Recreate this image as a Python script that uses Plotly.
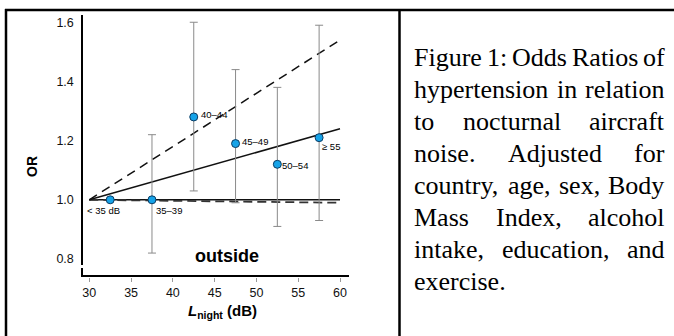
import plotly.graph_objects as go

# ---------------- data ----------------
categories = ["< 35 dB", "35–39", "40–44", "45–49", "50–54", "≥ 55"]
x_mid = [32.5, 37.5, 42.5, 47.5, 52.5, 57.5]
odds = [1.00, 1.00, 1.28, 1.19, 1.12, 1.21]
ci_low = [None, 0.82, 1.03, 0.99, 0.91, 0.93]
ci_high = [None, 1.22, 1.60, 1.44, 1.38, 1.59]

trend_x = [30, 60]
trend_or = [1.00, 1.24]
trend_upper = [1.00, 1.54]
trend_lower = [1.00, 0.99]
ref_or = [1.00, 1.00]

x_ticks = [30, 35, 40, 45, 50, 55, 60]
y_ticks = [0.8, 1.0, 1.2, 1.4, 1.6]
y_ticktext = ["0.8", "1.0", "1.2", "1.4", "1.6"]

panel_label = "outside"
x_title = "<b><i>L</i></b><sub><b>night</b></sub><b> (dB)</b>"
y_title = "<b>OR</b>"
caption_lines = [
    "Figure 1: Odds Ratios of",
    "hypertension in relation",
    "to nocturnal aircraft",
    "noise. Adjusted for",
    "country, age, sex, Body",
    "Mass Index, alcohol",
    "intake, education, and",
    "exercise.",
]

# ---------------- layout helpers ----------------
W, H = 674, 336
def px(x):
    return x / W
def py(y):
    return (H - y) / H

SANS = "Liberation Sans, Arial, sans-serif"
SERIF = "Liberation Serif, Times New Roman, serif"

fig = go.Figure()

# trend lines
fig.add_trace(go.Scatter(x=trend_x, y=ref_or, mode="lines",
                         line=dict(color="#111111", width=1.5), hoverinfo="skip"))
fig.add_trace(go.Scatter(x=trend_x, y=trend_lower, mode="lines",
                         line=dict(color="#333333", width=1.8, dash="9px,5px"), hoverinfo="skip"))
fig.add_trace(go.Scatter(x=trend_x, y=trend_upper, mode="lines",
                         line=dict(color="#111111", width=1.5, dash="9px,6px"), hoverinfo="skip"))
fig.add_trace(go.Scatter(x=trend_x, y=trend_or, mode="lines",
                         line=dict(color="#111111", width=1.5), hoverinfo="skip"))

# error bars (only categories with a CI)
eb_x, eb_y, eb_p, eb_m = [], [], [], []
for xv, o, lo, hi in zip(x_mid, odds, ci_low, ci_high):
    if lo is None:
        continue
    eb_x.append(xv); eb_y.append(o); eb_p.append(hi - o); eb_m.append(o - lo)
fig.add_trace(go.Scatter(
    x=eb_x, y=eb_y, mode="markers", marker=dict(size=1, color="rgba(0,0,0,0)"),
    error_y=dict(type="data", array=eb_p, arrayminus=eb_m, symmetric=False,
                 color="#8a8a8a", thickness=1, width=4),
    hoverinfo="skip"))

# points
fig.add_trace(go.Scatter(
    x=x_mid, y=odds, mode="markers",
    marker=dict(size=8, color="#16a3e8", line=dict(color="#0b3b63", width=1)),
    hoverinfo="skip"))

# category labels near points
label_pos = [
    dict(xanchor="center", yanchor="top", xshift=-7, yshift=-5),
    dict(xanchor="left", yanchor="top", xshift=4, yshift=-5),
    dict(xanchor="left", yanchor="middle", xshift=7, yshift=2),
    dict(xanchor="left", yanchor="middle", xshift=6, yshift=2),
    dict(xanchor="left", yanchor="middle", xshift=5, yshift=-1),
    dict(xanchor="left", yanchor="top", xshift=3, yshift=-3),
]
annotations = []
for lab, xv, o, pos in zip(categories, x_mid, odds, label_pos):
    annotations.append(dict(x=xv, y=o, xref="x", yref="y", text=lab, showarrow=False,
                            font=dict(family=SANS, size=9.5, color="#000000"),
                            borderpad=0, borderwidth=0, **pos))

annotations.append(dict(x=px(227), y=py(256), xref="paper", yref="paper", text="<b>%s</b>" % panel_label,
                        showarrow=False, font=dict(family=SANS, size=18, color="#000000"),
                        xanchor="center", yanchor="middle", borderpad=0, borderwidth=0))
annotations.append(dict(x=px(222), y=py(311), xref="paper", yref="paper", text=x_title,
                        showarrow=False, font=dict(family=SANS, size=15, color="#000000"),
                        xanchor="center", yanchor="middle", borderpad=0, borderwidth=0))
annotations.append(dict(x=px(32), y=py(167), xref="paper", yref="paper", text=y_title,
                        showarrow=False, textangle=-90, font=dict(family=SANS, size=14, color="#000000"),
                        xanchor="center", yanchor="middle", borderpad=0, borderwidth=0))

# justified caption (Times metrics, Liberation Serif is metric compatible)
TIMES = {' ': 250, ',': 250, '.': 250, ':': 278, '1': 500,
         'a': 444, 'b': 500, 'c': 444, 'd': 500, 'e': 444, 'f': 333, 'g': 500, 'h': 500,
         'i': 278, 'j': 278, 'k': 500, 'l': 278, 'm': 778, 'n': 500, 'o': 500, 'p': 500,
         'q': 500, 'r': 333, 's': 389, 't': 278, 'u': 500, 'v': 500, 'w': 722, 'x': 500,
         'y': 500, 'z': 444, 'A': 722, 'B': 667, 'F': 556, 'I': 333, 'M': 889, 'O': 722,
         'R': 667}
CAP_FS = 26
CAP_L, CAP_R = 414, 664.5
CAP_BASE0, CAP_STEP = 66, 32

def tw(word):
    return sum(TIMES.get(c, 500) for c in word) * CAP_FS / 1000.0

for i, line in enumerate(caption_lines):
    words = line.split(" ")
    ycen = CAP_BASE0 + CAP_STEP * i - 0.3375 * CAP_FS
    last = i == len(caption_lines) - 1
    widths = [tw(w) for w in words]
    if last or len(words) == 1:
        gap = tw(" ")
    else:
        gap = (CAP_R - CAP_L - sum(widths)) / (len(words) - 1)
    xcur = CAP_L
    for w, wd in zip(words, widths):
        annotations.append(dict(x=px(xcur), y=py(ycen), xref="paper", yref="paper", text=w,
                                showarrow=False, font=dict(family=SERIF, size=CAP_FS, color="#000000"),
                                xanchor="left", yanchor="middle", borderpad=0, borderwidth=0))
        xcur += wd + gap

# frame + axis lines
shapes = [
    dict(type="line", xref="paper", yref="paper", x0=px(5), x1=px(674), y0=py(10), y1=py(10),
         line=dict(color="#000000", width=2.5)),
    dict(type="line", xref="paper", yref="paper", x0=px(6), x1=px(6), y0=py(9), y1=py(336),
         line=dict(color="#000000", width=2.5)),
    dict(type="line", xref="paper", yref="paper", x0=px(399.5), x1=px(399.5), y0=py(9), y1=py(336),
         line=dict(color="#000000", width=2.5)),
    dict(type="line", xref="paper", yref="paper", x0=px(82), x1=px(82), y0=py(15), y1=py(265),
         line=dict(color="#000000", width=2)),
    dict(type="line", xref="paper", yref="paper", x0=px(82), x1=px(82), y0=py(268), y1=py(276),
         line=dict(color="#000000", width=2)),
    dict(type="line", xref="paper", yref="paper", x0=px(81), x1=px(349), y0=py(276), y1=py(276),
         line=dict(color="#000000", width=2)),
]

# axis geometry (pixel calibration)
X0_PX, X_PER = 89.3, 8.357
Y1_PX, Y_PER = 199.8, 295.9
x_lo, x_hi = 29.1, 61.1
y_lo, y_hi = 0.74, 1.625
xd = [(X0_PX + (x_lo - 30) * X_PER) / W, (X0_PX + (x_hi - 30) * X_PER) / W]
yd = [py(Y1_PX - (y_lo - 1) * Y_PER), py(Y1_PX - (y_hi - 1) * Y_PER)]

fig.update_layout(
    width=W, height=H, margin=dict(l=0, r=0, t=0, b=0),
    paper_bgcolor="white", plot_bgcolor="white", showlegend=False,
    annotations=annotations, shapes=shapes,
    xaxis=dict(domain=xd, range=[x_lo, x_hi], tickvals=x_ticks, showgrid=False, zeroline=False,
               showline=False, ticks="outside", ticklen=4, tickcolor="#999999", tickwidth=1,
               tickfont=dict(family=SANS, size=12.5, color="#111111"), fixedrange=True),
    yaxis=dict(domain=yd, range=[y_lo, y_hi], tickvals=y_ticks, ticktext=y_ticktext,
               showgrid=False, zeroline=False, showline=False, ticks="", ticklabelstandoff=7,
               tickfont=dict(family=SANS, size=12.5, color="#111111"), fixedrange=True),
)

fig.write_html(
    "out.html",
    config=dict(displayModeBar=False),
    post_script="document.body.style.margin='0';document.body.style.padding='0';"
                "document.body.style.overflow='hidden';",
)
